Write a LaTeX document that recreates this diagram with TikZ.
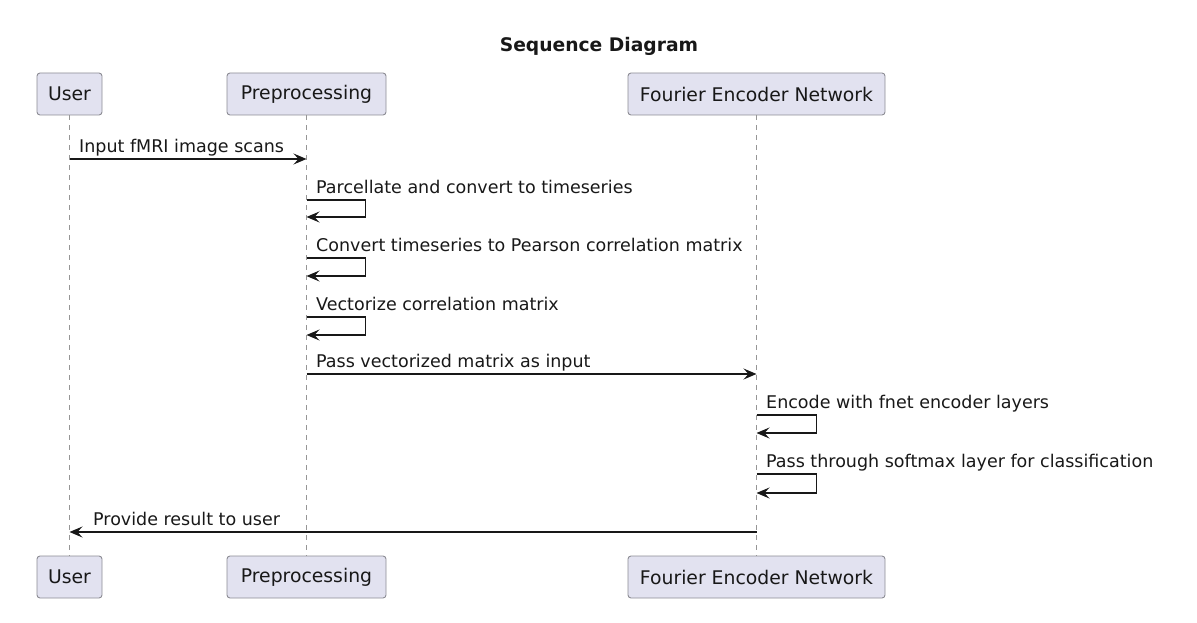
\documentclass[tikz,border=0pt]{standalone}
\usepackage{fontspec}
\setmainfont{DejaVu Sans}
\usepackage{xcolor}
\definecolor{umlfill}{RGB}{226,226,240}
\definecolor{umlborder}{RGB}{140,140,148}
\definecolor{umlline}{RGB}{24,24,24}
\definecolor{umllife}{RGB}{150,150,150}
\usetikzlibrary{arrows.meta, positioning}
\tikzset{
  part/.style={draw=umlborder, fill=umlfill, line width=0.9pt, rounded corners=3pt,
    minimum height=42pt, inner sep=0pt, text=umlline, font=\fontsize{18.8}{22}\selectfont},
  lifeline/.style={umllife, line width=0.8pt, dash pattern=on 5pt off 5pt},
  msg/.style={umlline, line width=1.2pt, -{Stealth[length=13pt, width=11pt, inset=5pt]}},
  msglabel/.style={anchor=base west, inner sep=0pt, text=umlline, font=\fontsize{17.5}{20}\selectfont}
}

\begin{document}
\begin{tikzpicture}[x=1pt, y=-1pt]
  \useasboundingbox (0,0) rectangle (1197,623);

  % Title
  \node[font=\fontsize{18.7}{22}\selectfont\bfseries, text=umlline] (title) at (599,46) {Sequence Diagram};

  % Participants
  \node[part, minimum width=65pt]  (userTop) at (69.5,94)  {User};
  \node[part, minimum width=159pt] (prepTop) at (306.5,94) {Preprocessing};
  \node[part, minimum width=257pt] (fenTop)  at (756.5,94) {Fourier Encoder Network};
  \node[part, minimum width=65pt]  (userBot) at (69.5,577)  {User};
  \node[part, minimum width=159pt] (prepBot) at (306.5,577) {Preprocessing};
  \node[part, minimum width=257pt] (fenBot)  at (756.5,577) {Fourier Encoder Network};

  % Lifelines
  \draw[lifeline] (userTop.south) -- (userBot.north);
  \draw[lifeline] (prepTop.south) -- (prepBot.north);
  \draw[lifeline] (fenTop.south) -- (fenBot.north);

  % Message end points on the lifelines
  \coordinate (m1a) at (userTop.south |- 0,159);
  \coordinate (m1b) at (prepTop.south |- 0,159);
  \coordinate (m2a) at (prepTop.south |- 0,200);
  \coordinate (m2b) at (prepTop.south |- 0,217);
  \coordinate (m3a) at (prepTop.south |- 0,258);
  \coordinate (m3b) at (prepTop.south |- 0,276);
  \coordinate (m4a) at (prepTop.south |- 0,317);
  \coordinate (m4b) at (prepTop.south |- 0,335);
  \coordinate (m5a) at (prepTop.south |- 0,374);
  \coordinate (m5b) at (fenTop.south |- 0,374);
  \coordinate (m6a) at (fenTop.south |- 0,415);
  \coordinate (m6b) at (fenTop.south |- 0,433);
  \coordinate (m7a) at (fenTop.south |- 0,474);
  \coordinate (m7b) at (fenTop.south |- 0,493);
  \coordinate (m8a) at (fenTop.south |- 0,532);
  \coordinate (m8b) at (userTop.south |- 0,532);

  % Messages
  \draw[msg] (m1a) -- (m1b);
  \node[msglabel] (t1) at (79,152.5) {Input fMRI image scans};

  \draw[msg] (m2a) -- ++(59,0) |- (m2b);
  \node[msglabel] (t2) at (316,193.5) {Parcellate and convert to timeseries};

  \draw[msg] (m3a) -- ++(59,0) |- (m3b);
  \node[msglabel] (t3) at (316,251.5) {Convert timeseries to Pearson correlation matrix};

  \draw[msg] (m4a) -- ++(59,0) |- (m4b);
  \node[msglabel] (t4) at (316,310.5) {Vectorize correlation matrix};

  \draw[msg] (m5a) -- (m5b);
  \node[msglabel] (t5) at (316,367.5) {Pass vectorized matrix as input};

  \draw[msg] (m6a) -- ++(60,0) |- (m6b);
  \node[msglabel] (t6) at (766,408.5) {Encode with fnet encoder layers};

  \draw[msg] (m7a) -- ++(60,0) |- (m7b);
  \node[msglabel] (t7) at (766,467.5) {Pass through softmax layer for classification};

  \draw[msg] (m8a) -- (m8b);
  \node[msglabel] (t8) at (93,525.5) {Provide result to user};
\end{tikzpicture}
\end{document}
